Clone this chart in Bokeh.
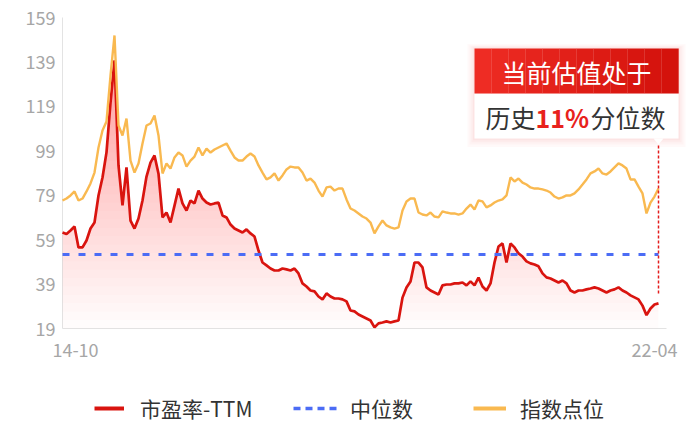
import numpy as np
from bokeh.plotting import figure
from bokeh.models import Range1d, Legend, LegendItem
from bokeh.core.properties import value
from bokeh.embed import file_html
from bokeh.resources import INLINE

# ---------------- data ----------------
pe_ttm = [
    62.2, 61.5, 63.1, 64.9, 55.5, 55.5, 58.6, 64.0, 66.7, 78.9,
    87.0, 98.3, 120.7, 139.7, 92.4, 74.4, 91.5, 67.6, 64.0, 68.5,
    76.6, 87.4, 93.7, 96.9, 88.7, 69.0, 71.2, 66.7, 74.3, 82.0,
    75.3, 72.1, 76.6, 75.3, 81.1, 77.5, 75.7, 74.8, 75.3, 75.7,
    69.9, 69.0, 65.8, 64.0, 63.1, 62.2, 63.6, 61.8, 60.4, 54.1,
    48.7, 47.4, 46.0, 45.1, 45.1, 46.0, 45.6, 45.1, 46.0, 43.8,
    39.3, 37.9, 36.1, 35.7, 33.4, 32.1, 34.8, 33.4, 32.5, 32.5,
    32.1, 31.2, 27.1, 26.7, 25.3, 24.4, 23.5, 22.6, 19.5, 21.3,
    21.7, 22.2, 21.7, 22.2, 22.6, 32.9, 37.5, 40.2, 48.7, 48.7,
    46.5, 37.5, 36.1, 35.2, 34.3, 38.4, 38.8, 38.8, 39.3, 39.3,
    39.7, 38.4, 40.2, 38.4, 41.9, 37.9, 36.1, 39.3, 48.7, 55.9,
    57.3, 48.7, 57.3, 55.5, 52.8, 51.4, 49.2, 48.3, 47.8, 47.0,
    43.8, 42.0, 41.5, 40.6, 39.7, 40.6, 39.3, 36.1, 35.2, 36.1,
    36.1, 36.6, 37.0, 37.5, 37.0, 36.1, 35.2, 36.1, 36.6, 37.5,
    36.1, 35.2, 33.9, 33.0, 32.1, 29.3, 25.0, 28.0, 29.8, 30.3,
]
index_points = [
    76.6, 77.5, 78.9, 80.7, 76.6, 77.5, 80.7, 84.3, 89.2, 100.5,
    108.1, 112.2, 132.9, 150.9, 110.4, 105.9, 113.5, 94.6, 89.2, 93.3,
    102.3, 110.4, 111.3, 114.9, 105.9, 88.8, 93.3, 91.0, 96.0, 98.2,
    96.9, 91.9, 94.6, 96.4, 100.5, 96.9, 100.0, 98.2, 99.6, 100.5,
    101.4, 102.3, 99.1, 96.0, 94.6, 94.6, 96.4, 97.8, 96.4, 92.4,
    89.2, 86.1, 87.0, 88.8, 85.6, 87.9, 90.6, 91.9, 91.5, 91.5,
    89.2, 85.6, 86.5, 84.7, 81.1, 78.4, 82.5, 82.9, 81.1, 82.0,
    82.0, 77.1, 73.0, 72.1, 70.8, 69.4, 68.5, 66.7, 61.8, 65.0,
    67.6, 65.4, 64.5, 64.0, 64.5, 72.1, 76.2, 77.5, 77.5, 71.2,
    70.3, 69.9, 71.2, 69.4, 69.0, 71.7, 71.2, 70.8, 70.8, 70.3,
    70.8, 73.0, 74.8, 72.6, 76.6, 76.2, 73.5, 74.4, 75.7, 76.6,
    77.1, 78.9, 87.0, 85.2, 86.5, 84.7, 83.8, 82.5, 82.0, 82.0,
    81.6, 81.1, 80.2, 78.4, 77.5, 78.0, 78.9, 78.9, 79.8, 81.6,
    83.8, 86.1, 88.8, 89.7, 91.0, 88.8, 88.3, 89.7, 91.5, 93.3,
    92.4, 91.0, 86.1, 86.1, 82.9, 79.8, 70.8, 75.7, 78.4, 82.0,
]
median_pe = 52.3
y_ticks = [19, 39, 59, 79, 99, 119, 139, 159]
x_tick_pos = [3.25, 148]
x_tick_text = ["14-10", "22-04"]
series_names = ["市盈率-TTM", "中位数", "指数点位"]
box_title = "当前估值处于"
box_line = ["历史", "11%", "分位数"]

RED = "#d9140f"
ORANGE = "#f9b950"
BLUE = "#4b6cf5"
FONT = "Noto Sans CJK SC"
GRAY = "#a6a6a6"
AXIS = "#e3e3e3"

pe = np.array(pe_ttm)
idx = np.array(index_points)
n = len(pe)
x = np.arange(n)

# The frame covers the whole canvas; the plotting area starts at (62, 17)px.
Y_LO, Y_HI = y_ticks[0], y_ticks[-1]
W, H = 700, 428
ux = 0.25                    # data units per pixel (x)
uy = (Y_HI - Y_LO) / 311     # data units per pixel (y)
x_rng = Range1d(-62 * ux, (W - 62) * ux)
y_rng = Range1d(Y_HI - (H - 17) * uy, Y_HI + 17 * uy)

p = figure(width=W, height=H, output_backend="svg", toolbar_location=None,
           x_range=x_rng, y_range=y_rng,
           x_axis_location=None, y_axis_location=None,
           min_border=0)
p.outline_line_color = None
p.xgrid.visible = False
p.ygrid.visible = False
p.background_fill_color = "white"
p.border_fill_color = "white"

# ---- axis lines and tick labels
p.line([0, 0], [Y_LO, Y_HI], line_color=AXIS, line_width=1)
p.line([0, n + 1], [Y_LO, Y_LO], line_color=AXIS, line_width=1)
p.text(x=[-7 * ux] * len(y_ticks), y=y_ticks, text=[str(t) for t in y_ticks],
       text_color=GRAY, text_font_size="18px", text_align="right",
       text_baseline="middle", text_font=value(FONT))
p.text(x=x_tick_pos, y=[Y_LO - 21 * uy] * 2, text=x_tick_text,
       text_color=GRAY, text_font_size="18px", text_align="center",
       text_baseline="middle", text_font=value(FONT))

# ---- gradient fill under PE line (stacked translucent bands)
levels = np.linspace(Y_LO, pe.max(), 32, endpoint=False)
for L in levels:
    p.varea(x=x, y1=np.minimum(pe, L), y2=pe, fill_color="#e01818",
            fill_alpha=0.0105)

p.line(x, pe, line_color=RED, line_width=2.7)
p.line([x[0], x[-1]], [median_pe, median_pe], line_color=BLUE,
       line_width=3, line_dash="7 9")
p.line(x, idx, line_color=ORANGE, line_width=2.4)

# ---- annotation box (anchored on the last data point)
ax = x[-1]
box_l = ax - 184 * ux
box_r = ax + 20 * ux
head_t = 145.1
head_b = 124.8
box_b = 104.5
tip = box_b - 6 * uy

for k, a in [(7, 0.03), (5, 0.035), (3, 0.04), (1.5, 0.05)]:
    p.quad(left=box_l - k * ux, right=box_r + k * ux,
           top=head_t + k * uy * 0.6, bottom=box_b - k * uy * 1.2,
           fill_color="#f04848", fill_alpha=a, line_color=None)
p.quad(left=box_l, right=box_r, top=head_b, bottom=box_b,
       fill_color="white", line_color=None)
p.patch([ax - 5 * ux, ax + 5 * ux, ax], [box_b, box_b, tip],
        fill_color="white", line_color=None)

c0 = np.array([0xEE, 0x2C, 0x24])
c1 = np.array([0xD4, 0x12, 0x0C])
strips = 12
edges = np.linspace(box_l, box_r, strips + 1)
for s in range(strips):
    c = (c0 + (c1 - c0) * s / (strips - 1)).astype(int)
    col = "#%02x%02x%02x" % tuple(c)
    p.quad(left=edges[s], right=edges[s + 1] + 0.05, top=head_t, bottom=head_b,
           fill_color=col, line_color=None)

p.text(x=[(box_l + box_r) / 2], y=[(head_t + head_b) / 2 - 0.3], text=[box_title],
       text_color="white", text_font_size="25px", text_align="center",
       text_baseline="middle", text_font=value(FONT))
line_y = (head_b + box_b) / 2 - 0.6
p.text(x=[ax - 173 * ux], y=[line_y], text=[box_line[0]], text_color="#333333",
       text_font_size="25px", text_align="left", text_baseline="middle",
       text_font=value(FONT))
p.text(x=[ax - 123 * ux], y=[line_y], text=[box_line[1]], text_color="#e8221c",
       text_font_size="25px", text_align="left", text_baseline="middle",
       text_font=value(FONT), text_font_style="bold")
p.text(x=[ax - 68 * ux], y=[line_y], text=[box_line[2]], text_color="#333333",
       text_font_size="25px", text_align="left", text_baseline="middle",
       text_font=value(FONT))

p.segment(x0=[ax], y0=[pe[-1] + 4.5], x1=[ax], y1=[tip],
          line_color="#e41c1c", line_width=1.5, line_dash="3 2")

# ---- legend (legend-only renderers placed off-screen, legend styling)
off_x = [x_rng.start - 20, x_rng.start - 19]
off_y = [Y_LO, Y_LO]
r1 = p.line(off_x, off_y, line_color=RED, line_width=4)
r2 = p.line(off_x, off_y, line_color=BLUE, line_width=3.5, line_dash="7 5")
r3 = p.line(off_x, off_y, line_color=ORANGE, line_width=4)

legend_specs = [  # renderer, label, glyph start px, glyph width, standoff
    (r1, series_names[0], 94, 30, 16),
    (r2, series_names[1], 293, 44, 13),
    (r3, series_names[2], 473, 33, 14),
]
for rend, lab, gx, gw, so in legend_specs:
    lg = Legend(items=[LegendItem(label=lab, renderers=[rend])],
                orientation="horizontal", location=(gx, 5),
                glyph_width=gw, glyph_height=24, label_height=24,
                label_standoff=so, padding=0, margin=0,
                border_line_color=None, background_fill_alpha=0,
                label_text_font_size="21px", label_text_color="#333333",
                label_text_font=FONT)
    p.add_layout(lg)

open("out.html", "w").write(file_html(p, INLINE))
